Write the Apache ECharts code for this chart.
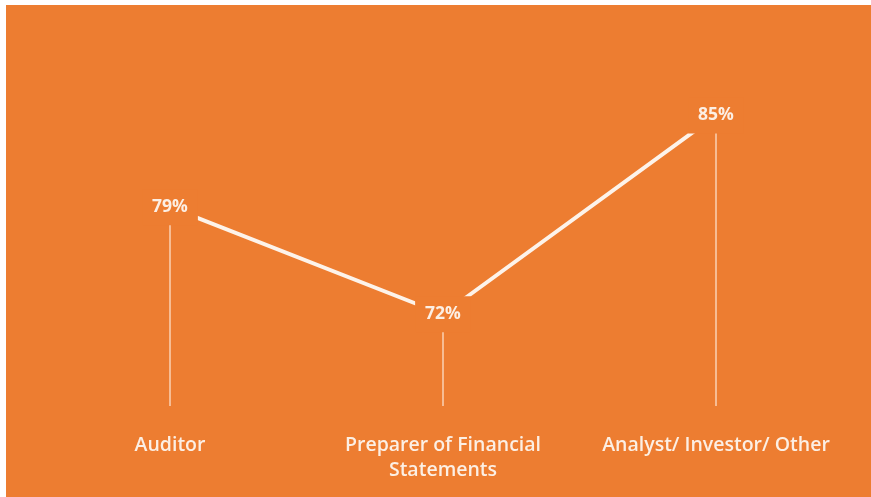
<!DOCTYPE html>
<html>
<head>
<meta charset="utf-8">
<script src="https://cdn.jsdelivr.net/npm/echarts@6/dist/echarts.min.js"></script>
<style>
  html, body { margin: 0; padding: 0; background: #ffffff; }
  #chart { width: 871px; height: 497px; }
</style>
</head>
<body>
<div id="chart"></div>
<script>
// Share of respondents by role
const categories = ['Auditor', 'Preparer of Financial\nStatements', 'Analyst/ Investor/ Other'];
const shares = [79, 72, 85];

const ORANGE = '#ED7D31';
const TEXT = '#fcefe4';
const FONT = '"Open Sans", "DejaVu Sans", sans-serif';

const chart = echarts.init(document.getElementById('chart'), null, { renderer: 'canvas' });

chart.setOption({
  backgroundColor: '#ffffff',
  animation: false,
  graphic: [{
    type: 'rect',
    z: -10,
    silent: true,
    shape: { x: 6, y: 5, width: 871, height: 497 },
    style: { fill: ORANGE }
  }],
  grid: { left: 33.5, right: 18.5, top: 39, bottom: 91 },
  xAxis: {
    type: 'category',
    data: categories,
    boundaryGap: true,
    axisLine: { show: false },
    axisTick: { show: false },
    splitLine: { show: false },
    axisLabel: {
      interval: 0,
      hideOverlap: false,
      color: TEXT,
      fontFamily: FONT,
      fontSize: 19.5,
      fontWeight: 600,
      lineHeight: 25,
      margin: 27,
      verticalAlign: 'top'
    }
  },
  yAxis: {
    type: 'value',
    min: 66,
    max: 90,
    show: false,
    splitLine: { show: false }
  },
  series: [
    {
      // thin drop lines under each point
      type: 'bar',
      data: shares,
      barWidth: 2,
      z: 1,
      silent: true,
      itemStyle: { color: 'rgba(255, 240, 228, 0.55)' }
    },
    {
      type: 'line',
      data: shares,
      z: 5,
      symbol: 'circle',
      symbolSize: 1,
      itemStyle: { color: ORANGE },
      lineStyle: { color: '#fdf3ea', width: 4 },
      label: {
        show: true,
        position: 'inside',
        formatter: '{c}%',
        color: TEXT,
        fontFamily: FONT,
        fontSize: 17.5,
        fontWeight: 'bold',
        backgroundColor: ORANGE,
        padding: [9, 10]
      }
    }
  ]
});
</script>
</body>
</html>
